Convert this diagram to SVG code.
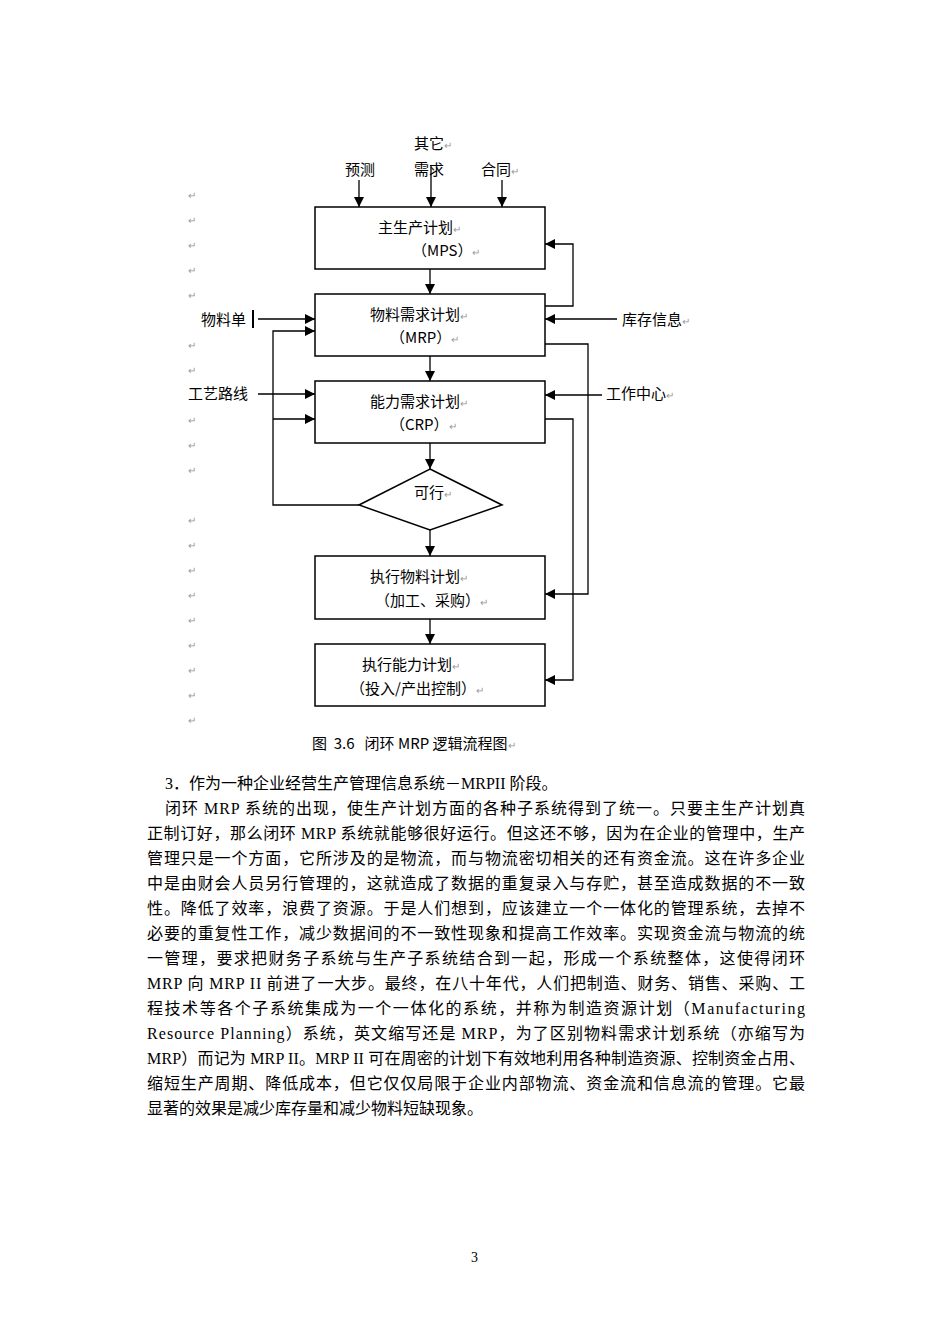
<svg xmlns="http://www.w3.org/2000/svg" width="950" height="1344" viewBox="0 0 950 1344">
<style>
.b{fill:#fff;stroke:#000;stroke-width:1.5}
.l{fill:none;stroke:#000;stroke-width:1.3}
.t{font-family:"Noto Sans CJK SC","Liberation Sans",sans-serif;font-size:15px;fill:#000}
.r{font-size:10px;fill:#999}
.m{font-family:"Liberation Sans",sans-serif;font-size:10px;fill:#999}
.p{font-family:"Liberation Serif","Noto Sans CJK SC",serif;font-size:16px;fill:#000}
</style>
<defs><marker id="a" viewBox="0 0 10 10" refX="10" refY="5" markerWidth="10" markerHeight="10" markerUnits="userSpaceOnUse" orient="auto"><path d="M0,0L10,5L0,10z" fill="#000"/></marker></defs>
<g id="connectors" class="l">
<path d="M359,180V207" marker-end="url(#a)"/>
<path d="M431,165V207" marker-end="url(#a)"/>
<path d="M502,180V207" marker-end="url(#a)"/>
<path d="M430,269V294" marker-end="url(#a)"/>
<path d="M430,356V381" marker-end="url(#a)"/>
<path d="M430,443V469" marker-end="url(#a)"/>
<path d="M430,530V556" marker-end="url(#a)"/>
<path d="M430,619V644" marker-end="url(#a)"/>
<path d="M545,306H573V244H545" marker-end="url(#a)"/>
<path d="M617,319H545" marker-end="url(#a)"/>
<path d="M602,395H545" marker-end="url(#a)"/>
<path d="M545,344H588V594H545" marker-end="url(#a)"/>
<path d="M545,419H573V680H545" marker-end="url(#a)"/>
<path d="M258,319H315" marker-end="url(#a)"/>
<path d="M258,394H315" marker-end="url(#a)"/>
<path d="M359,505H273V331H315" marker-end="url(#a)"/>
<path d="M273,419H315" marker-end="url(#a)"/>
<path d="M253,310V328" stroke-width="2"/>
</g>
<g id="mps"><rect class="b" x="315" y="207" width="230" height="62"/><text class="t" x="378" y="233">主生产计划<tspan class="r">↵</tspan></text><text class="t" x="412" y="256">（MPS）<tspan class="r">↵</tspan></text></g>
<g id="mrp"><rect class="b" x="315" y="294" width="230" height="62"/><text class="t" x="370" y="320">物料需求计划<tspan class="r">↵</tspan></text><text class="t" x="390" y="343">（MRP）<tspan class="r">↵</tspan></text></g>
<g id="crp"><rect class="b" x="315" y="381" width="230" height="62"/><text class="t" x="370" y="407">能力需求计划<tspan class="r">↵</tspan></text><text class="t" x="390" y="430">（CRP）<tspan class="r">↵</tspan></text></g>
<g id="feasible"><path class="b" d="M430,469L502,505L430,530L359,505Z"/><text class="t" x="414" y="498">可行<tspan class="r">↵</tspan></text></g>
<g id="exec-mat"><rect class="b" x="315" y="556" width="230" height="63"/><text class="t" x="370" y="582">执行物料计划<tspan class="r">↵</tspan></text><text class="t" x="375" y="606">（加工、采购）<tspan class="r">↵</tspan></text></g>
<g id="exec-cap"><rect class="b" x="315" y="644" width="230" height="62"/><text class="t" x="362" y="670">执行能力计划<tspan class="r">↵</tspan></text><text class="t" x="350" y="694">（投入/产出控制）<tspan class="r">↵</tspan></text></g>
<g id="labels" class="t">
<text x="414" y="149">其它<tspan class="r">↵</tspan></text><text x="345" y="175">预测</text><text x="414" y="175">需求</text><text x="481" y="175">合同<tspan class="r">↵</tspan></text>
<text x="201" y="325">物料单</text><text x="622" y="325">库存信息<tspan class="r">↵</tspan></text>
<text x="188" y="399">工艺路线</text><text x="606" y="399">工作中心<tspan class="r">↵</tspan></text>
<text x="312" y="749" xml:space="preserve">图  3.6   闭环 MRP 逻辑流程图<tspan class="r">↵</tspan></text>
</g>
<g class="m">
<text x="188" y="199">↵</text><text x="188" y="224">↵</text><text x="188" y="249">↵</text><text x="188" y="274">↵</text><text x="188" y="299">↵</text>
<text x="188" y="349">↵</text><text x="188" y="374">↵</text><text x="188" y="424">↵</text><text x="188" y="449">↵</text><text x="188" y="474">↵</text>
<text x="188" y="524">↵</text><text x="188" y="549">↵</text><text x="188" y="574">↵</text><text x="188" y="599">↵</text><text x="188" y="624">↵</text><text x="188" y="649">↵</text><text x="188" y="674">↵</text><text x="188" y="699">↵</text><text x="188" y="724">↵</text>
</g>
<g id="body" class="p">
<text x="165" y="789">3．作为一种企业经营生产管理信息系统－MRPII 阶段。</text>
<text x="165" y="814" textLength="640" lengthAdjust="spacing">闭环 MRP 系统的出现，使生产计划方面的各种子系统得到了统一。只要主生产计划真</text>
<text x="147" y="839" textLength="658" lengthAdjust="spacing">正制订好，那么闭环 MRP 系统就能够很好运行。但这还不够，因为在企业的管理中，生产</text>
<text x="147" y="864" textLength="658" lengthAdjust="spacing">管理只是一个方面，它所涉及的是物流，而与物流密切相关的还有资金流。这在许多企业</text>
<text x="147" y="889" textLength="658" lengthAdjust="spacing">中是由财会人员另行管理的，这就造成了数据的重复录入与存贮，甚至造成数据的不一致</text>
<text x="147" y="914" textLength="658" lengthAdjust="spacing">性。降低了效率，浪费了资源。于是人们想到，应该建立一个一体化的管理系统，去掉不</text>
<text x="147" y="939" textLength="658" lengthAdjust="spacing">必要的重复性工作，减少数据间的不一致性现象和提高工作效率。实现资金流与物流的统</text>
<text x="147" y="964" textLength="658" lengthAdjust="spacing">一管理，要求把财务子系统与生产子系统结合到一起，形成一个系统整体，这使得闭环</text>
<text x="147" y="989" textLength="658" lengthAdjust="spacing">MRP 向 MRP II 前进了一大步。最终，在八十年代，人们把制造、财务、销售、采购、工</text>
<text x="147" y="1014" textLength="658" lengthAdjust="spacing">程技术等各个子系统集成为一个一体化的系统，并称为制造资源计划（Manufacturing</text>
<text x="147" y="1039" textLength="658" lengthAdjust="spacing">Resource Planning）系统，英文缩写还是 MRP，为了区别物料需求计划系统（亦缩写为</text>
<text x="147" y="1064" textLength="658" lengthAdjust="spacing">MRP）而记为 MRP II。MRP II 可在周密的计划下有效地利用各种制造资源、控制资金占用、</text>
<text x="147" y="1089" textLength="658" lengthAdjust="spacing">缩短生产周期、降低成本，但它仅仅局限于企业内部物流、资金流和信息流的管理。它最</text>
<text x="147" y="1114">显著的效果是减少库存量和减少物料短缺现象。</text>
<text x="471" y="1262" font-size="14">3</text>
</g>
</svg>
